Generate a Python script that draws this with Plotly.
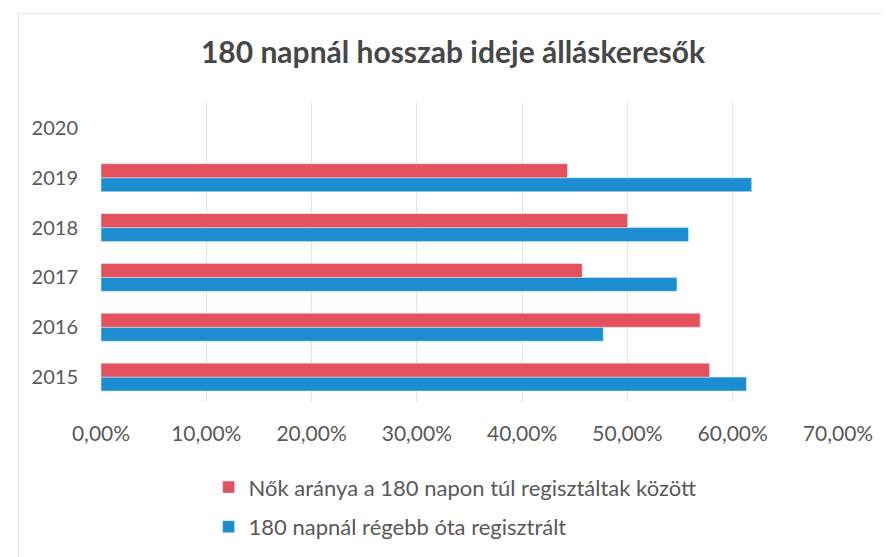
import plotly.graph_objects as go

years = ["2015", "2016", "2017", "2018", "2019", "2020"]
nok_aranya = [0.578, 0.569, 0.457, 0.500, 0.443, None]
regisztralt = [0.613, 0.477, 0.547, 0.558, 0.618, None]
x_ticks = [0, 0.1, 0.2, 0.3, 0.4, 0.5, 0.6, 0.7]

red = "#E2515C"
blue = "#1B8DD0"
gray = "#595959"
font = "Lato, 'Open Sans', sans-serif"

fig = go.Figure()
fig.add_trace(go.Bar(
    y=years, x=regisztralt, orientation="h", name="180 napnál régebb óta regisztrált",
    marker=dict(color=blue), legendgroup="b", legendrank=2,
))
fig.add_trace(go.Bar(
    y=years, x=nok_aranya, orientation="h", name="Nők aránya a 180 napon túl regisztáltak között",
    marker=dict(color=red), legendgroup="a", legendrank=1,
))

fig.update_layout(
    width=890, height=557,
    paper_bgcolor="white", plot_bgcolor="white",
    separators=",.",
    barmode="group", bargap=0.44, bargroupgap=0,
    margin=dict(l=93, r=60, t=95, b=163, autoexpand=False),
    title=dict(text="<b>180 napnál hosszab ideje álláskeresők</b>", x=0.5, xanchor="center",
               y=0.92, yanchor="middle", font=dict(family=font, size=30, color="#474747")),
    font=dict(family=font, color=gray),
    xaxis=dict(range=[0, 0.7], tickvals=x_ticks, tickformat=".2%", showgrid=True,
               gridcolor="#E3E3E3", gridwidth=1, zeroline=False, showline=False,
               tickfont=dict(size=21, color=gray), ticks="", ticklabelstandoff=17,
               automargin=False),
    yaxis=dict(type="category", categoryorder="array", categoryarray=years,
               range=[-0.5, 5.5], showgrid=False, zeroline=False, showline=False,
               tickfont=dict(size=20, color=gray), ticks="", ticklabelstandoff=22,
               automargin=False),
    legend=dict(orientation="v", x=0.146, xanchor="left", y=-0.215, yanchor="top",
                font=dict(size=22, color=gray), traceorder="grouped", tracegroupgap=8,
                itemwidth=30),
    shapes=[dict(type="rect", xref="paper", yref="paper", x0=-0.112, x1=1.065, y0=-0.52, y1=1.3,
                 line=dict(color="#E6E6E6", width=1))],
)

fig.write_html("out.html")
